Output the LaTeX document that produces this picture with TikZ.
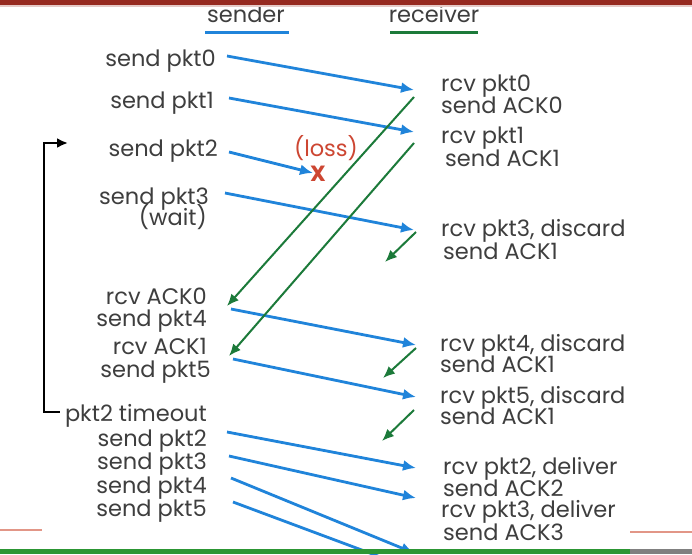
\documentclass[tikz,border=0pt]{standalone}
\usepackage{fontspec}
\setmainfont{Poppins}
\usetikzlibrary{arrows.meta}

\definecolor{pktblue}{RGB}{32,132,218}
\definecolor{ackgreen}{RGB}{28,122,58}
\definecolor{lossred}{RGB}{205,70,50}
\definecolor{txtgray}{RGB}{62,62,62}
\definecolor{barred}{RGB}{150,42,32}
\definecolor{barpink}{RGB}{226,150,135}
\definecolor{bargreen}{RGB}{44,150,52}

\tikzset{
  lbl/.style={text=txtgray, font=\fontsize{22.5}{22}\selectfont, inner sep=0pt,
    text height=16pt, text depth=4pt},
  sndlbl/.style={lbl, anchor=east},
  rcvlbl/.style={lbl, anchor=west},
  pkt/.style={pktblue, line width=2.8pt, -{Latex[length=13pt,width=11pt]}},
  ack/.style={ackgreen, line width=2pt, -{Latex[length=12pt,width=10pt]}},
}

\begin{document}
\begin{tikzpicture}[x=1pt,y=-1pt]
    \useasboundingbox (0,0) rectangle (692,554);
    \fill[white] (0,0) rectangle (692,554);

    % Kopf: sender / receiver
    \node[lbl] (sender) at (246,16) {sender};
    \node[lbl] (receiver) at (434,16) {receiver};
    \draw[pktblue, line width=3pt] (205,32) -- (289,32);
    \draw[ackgreen, line width=3pt] (390,32) -- (478,32);

    % Sender-Seite
    \node[sndlbl] (snd0) at (216,60) {send pkt0};
    \node[sndlbl] (snd1) at (214,102) {send pkt1};
    \node[sndlbl] (snd2) at (218,150) {send pkt2};
    \node[sndlbl] (snd3) at (209,198) {send pkt3};
    \node[sndlbl] (wait) at (207,219) {(wait)};
    \node[sndlbl] (rack0) at (207,298) {rcv ACK0};
    \node[sndlbl] (snd4) at (207,320) {send pkt4};
    \node[sndlbl] (rack1) at (207,348) {rcv ACK1};
    \node[sndlbl] (snd5) at (211,371) {send pkt5};
    \node[sndlbl] (tmo) at (207,415) {pkt2 timeout};
    \node[sndlbl] (rsnd2) at (207,440) {send pkt2};
    \node[sndlbl] (rsnd3) at (207,463) {send pkt3};
    \node[sndlbl] (rsnd4) at (207,487) {send pkt4};
    \node[sndlbl] (rsnd5) at (207,510) {send pkt5};

    % Receiver-Seite
    \node[rcvlbl] (rp0) at (441,85) {rcv pkt0};
    \node[rcvlbl] (ra0) at (441,107) {send ACK0};
    \node[rcvlbl] (rp1) at (441,137) {rcv pkt1};
    \node[rcvlbl] (ra1) at (445,160) {send ACK1};
    \node[rcvlbl] (rp3) at (441,230) {rcv pkt3, discard};
    \node[rcvlbl] (ra1b) at (443,253) {send ACK1};
    \node[rcvlbl] (rp4) at (440,345) {rcv pkt4, discard};
    \node[rcvlbl] (ra1c) at (440,366) {send ACK1};
    \node[rcvlbl] (rp5) at (440,397) {rcv pkt5, discard};
    \node[rcvlbl] (ra1d) at (440,418) {send ACK1};
    \node[rcvlbl] (rp2d) at (443,468) {rcv pkt2, deliver};
    \node[rcvlbl] (ra2) at (443,490) {send ACK2};
    \node[rcvlbl] (rp3d) at (441,511) {rcv pkt3, deliver};
    \node[rcvlbl] (ra3) at (443,534) {send ACK3};

    % Verlust von pkt2
    \node[lbl, text=lossred] (loss) at (326,150) {(loss)};
    \node[text=lossred, inner sep=0pt, font=\fontsize{22}{22}\bfseries] (lx) at (318,174) {X};

    % Pfeil-Endpunkte
    \coordinate (p0) at (414,90);
    \coordinate (p1) at (414,132);
    \coordinate (p2) at (313,173);
    \coordinate (p3) at (414,230);
    \coordinate (p4) at (416,345);
    \coordinate (p5) at (416,397);
    \coordinate (q2) at (416,468);
    \coordinate (q3) at (416,498);
    \coordinate (q4) at (414,553);
    \coordinate (q5) at (410,568);
    \coordinate (a0s) at (414,97);
    \coordinate (a0) at (227,306);
    \coordinate (a1s) at (414,143);
    \coordinate (a1) at (229,356);
    \coordinate (b1s) at (416,232);
    \coordinate (b1) at (385,262);
    \coordinate (c1s) at (416,348);
    \coordinate (c1) at (383,378);
    \coordinate (d1s) at (414,410);
    \coordinate (d1) at (382,441);

    % Pakete
    \draw[pkt] ([xshift=11pt,yshift=4pt]snd0.east) -- (p0);
    \draw[pkt] ([xshift=15pt,yshift=4pt]snd1.east) -- (p1);
    \draw[pkt] ([xshift=11pt,yshift=-2pt]snd2.east) -- (p2);
    \draw[pkt] ([xshift=16pt,yshift=5pt]snd3.east) -- (p3);
    \draw[pkt] ([xshift=24pt,yshift=11pt]snd4.east) -- (p4);
    \draw[pkt] ([xshift=22pt,yshift=12pt]snd5.east) -- (p5);
    \draw[pkt] ([xshift=20pt,yshift=8pt]rsnd2.east) -- (q2);
    \draw[pkt] ([xshift=22pt,yshift=7pt]rsnd3.east) -- (q3);
    \draw[pkt] ([xshift=24pt,yshift=9pt]rsnd4.east) -- (q4);
    \draw[pkt] ([xshift=26pt,yshift=8pt]rsnd5.east) -- (q5);

    % ACKs
    \draw[ack] (a0s) -- (a0);
    \draw[ack] (a1s) -- (a1);
    \draw[ack] (b1s) -- (b1);
    \draw[ack] (c1s) -- (c1);
    \draw[ack] (d1s) -- (d1);

    % Timer
    \coordinate (tstart) at (68,143);
    \draw[black, line width=2.5pt, -{Latex[length=11pt,width=10pt]}]
        ([xshift=-5pt,yshift=3pt]tmo.west) -- (44,412) -- (44,143) -- (tstart);

    % Rahmen der Folie
    \fill[barred] (0,0) rectangle (692,5);
    \fill[barred!25] (0,5) rectangle (692,7);
    \draw[barpink, line width=1.5pt] (0,530) -- (42,530);
    \draw[barpink, line width=1.5pt] (630,532) -- (692,532);
    \fill[bargreen] (0,549) rectangle (630,554);
    \fill[gray] (630,549) rectangle (692,554);
\end{tikzpicture}
\end{document}
